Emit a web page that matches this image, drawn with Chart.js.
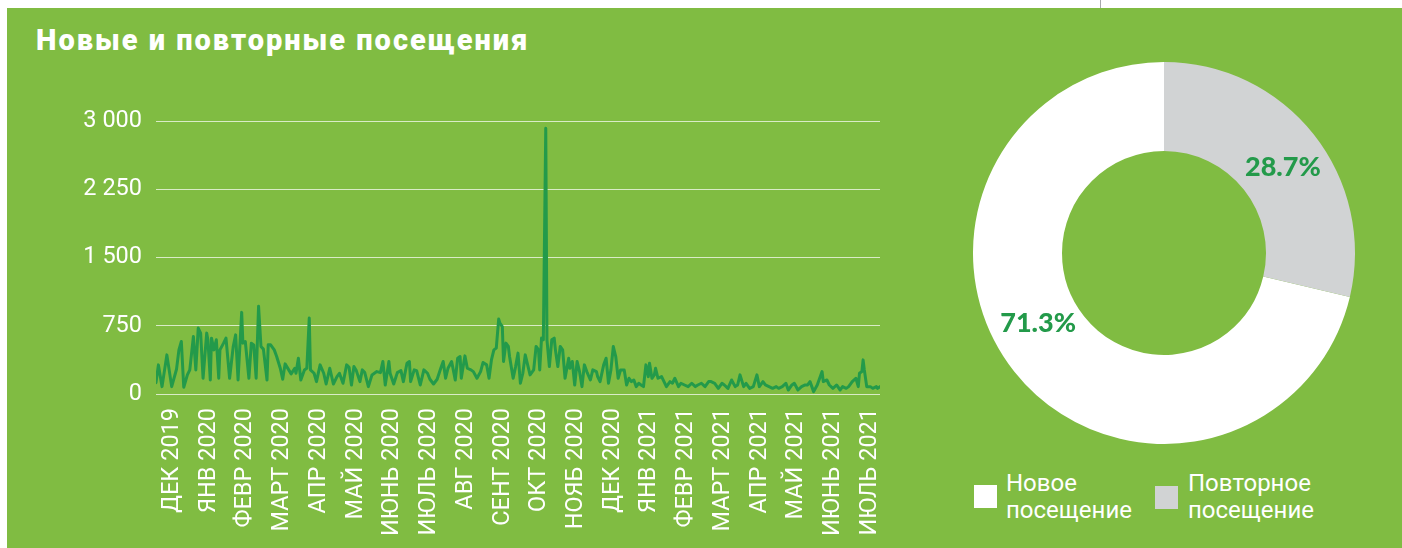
<!DOCTYPE html>
<html><head><meta charset="utf-8">
<script src="https://cdn.jsdelivr.net/npm/chart.js@4.4.1/dist/chart.umd.min.js"></script>
<style>
html,body{margin:0;padding:0;width:1402px;height:548px;overflow:hidden;background:#fff;font-family:Roboto,sans-serif;}
#panel{position:absolute;left:7px;top:8px;width:1395px;height:540px;background:#80bc42;}
#vline{position:absolute;left:1100px;top:0;width:1px;height:8px;background:#a7a9ac;}
#title{position:absolute;left:36px;top:25.5px;font:900 29px/29px Roboto;letter-spacing:2px;color:#fff;white-space:nowrap;}
#lineWrap{position:absolute;left:20px;top:100px;width:870px;height:448px;}
#donutWrap{position:absolute;left:973px;top:62px;width:382px;height:382px;}
.sw{position:absolute;width:23px;height:23px;}
.lt{position:absolute;font:400 24px/27px Roboto;color:#fff;white-space:nowrap;}
</style></head><body>
<div id="panel"></div>
<div id="vline"></div>
<div id="title">Новые и повторные посещения</div>
<div id="lineWrap"><canvas id="lineChart"></canvas></div>
<div id="donutWrap"><canvas id="donutChart"></canvas></div>
<div class="sw" style="left:974px;top:485px;background:#ffffff"></div>
<div class="lt" id="lg0" style="left:1006px;top:470px"></div>
<div class="sw" style="left:1155px;top:486px;background:#d1d3d4"></div>
<div class="lt" id="lg1" style="left:1188px;top:470px"></div>
<script>
// ---- data ----
const monthLabels = ['ДЕК 2019','ЯНВ 2020','ФЕВР 2020','МАРТ 2020','АПР 2020','МАЙ 2020','ИЮНЬ 2020','ИЮЛЬ 2020','АВГ 2020','СЕНТ 2020','ОКТ 2020','НОЯБ 2020','ДЕК 2020','ЯНВ 2021','ФЕВР 2021','МАРТ 2021','АПР 2021','МАЙ 2021','ИЮНЬ 2021','ИЮЛЬ 2021'];
const dayIndex = [0,2,5,9,13,17,19,21,23,26,28,31,33,35,37,39,42,43,45,46,48,50,52,53,56,58,61,64,66,68,71,72,74,77,79,81,83,85,87,89,92,93,95,98,100,103,105,107,110,112,115,116,118,120,123,125,127,128,131,133,136,139,141,144,147,150,152,155,158,160,162,164,166,169,171,173,176,179,183,186,188,190,193,194,197,200,203,205,208,210,211,214,216,219,222,225,227,230,233,236,238,240,242,245,248,250,252,253,256,258,261,263,266,269,271,274,276,278,280,282,284,285,287,288,290,292,293,296,298,300,302,304,306,308,310,313,315,317,318,319.5,321,323,324,326,328,330,331,333,335,337,339,342,343,345,347,349,351,353,355,357,360,362,365,366,368,371,373,375,377,379,381,383,385,388,390,392,394,396,398,400,402,404,406,408,409,411,413,414,416,419,421,423,426,428,430,433,435,438,441,444,447,449,452,455,458,460,463,466,469,471,474,477,480,482,484,487,489,492,495,498,500,503,505,508,511,514,516,519,522,524,527,529,532,535,538,540,542,545,548,550,552,553,556,558,561,564,567,569,572,574,577,580,582,583,585,586,587,589,592,594,597,598,600];
const visits = [125,320,81,430,81,272,485,577,74,210,265,632,265,724,669,173,669,596,154,614,485,596,173,485,559,614,173,522,650,154,897,559,577,173,559,540,173,963,522,493,154,540,540,485,412,283,162,331,265,221,283,228,393,154,265,283,834,265,228,136,320,228,110,283,110,191,228,118,320,294,99,301,257,136,265,235,81,210,246,235,357,99,357,228,110,235,257,136,338,357,136,265,257,99,265,228,162,110,162,283,357,173,283,357,154,393,412,173,419,283,265,246,173,246,346,320,173,375,485,504,823,779,741,357,559,522,412,173,301,449,118,228,430,320,210,265,522,485,265,614,596,2920,596,301,596,614,485,301,522,485,173,393,283,357,99,357,246,81,320,246,154,265,246,191,136,320,393,118,265,522,412,173,265,265,99,173,136,154,81,118,99,81,320,191,338,173,210,283,173,191,136,81,136,118,173,81,118,99,81,118,81,99,118,81,136,136,118,62,118,99,62,154,81,99,210,81,118,62,81,210,81,136,99,81,62,81,62,81,118,44,99,118,44,81,99,99,136,26,99,173,246,136,154,99,62,99,44,81,62,81,136,173,81,228,246,375,265,81,81,62,81,62,81];
const yTicks = [0, 750, 1500, 2250, 3000];
const shareLabels = [['Новое','посещение'], ['Повторное','посещение']];
const shareValues = [71.3, 28.7];

// ---- styling ----
const GREEN_LINE = '#239a4a';
const firstTickDay = 13.3, monthDays = 30.44;
const tickDays = monthLabels.map((_, i) => firstTickDay + i * monthDays);
const fmt = v => String(v).replace(/\B(?=(\d{3})+(?!\d))/g, ' ');
const noAutoPad = s => { s.paddingLeft = 0; s.paddingRight = 0; s.paddingTop = 0; s.paddingBottom = 0; };

document.getElementById('lg0').innerHTML = shareLabels[0].join('<br>');
document.getElementById('lg1').innerHTML = shareLabels[1].join('<br>');

function draw() {
  Chart.defaults.font.family = 'Roboto';
  new Chart(document.getElementById('lineChart'), {
    type: 'line',
    data: { datasets: [{
      data: dayIndex.map((d, i) => ({ x: d, y: visits[i] })),
      borderColor: GREEN_LINE, borderWidth: 3, pointRadius: 0, tension: 0,
      borderJoinStyle: 'round', borderCapStyle: 'round', fill: false
    }]},
    options: {
      responsive: true, maintainAspectRatio: false, animation: false,
      layout: { padding: { top: 21, right: 10, left: 0, bottom: 0 } },
      plugins: { legend: { display: false }, tooltip: { enabled: false } },
      scales: {
        x: {
          type: 'linear', min: 0, max: 600,
          grid: { display: false, drawTicks: false }, border: { display: false },
          afterBuildTicks: s => { s.ticks = tickDays.map(v => ({ value: v })); },
          afterFit: s => { s.height = 154; noAutoPad(s); },
          ticks: { autoSkip: false, maxRotation: 90, minRotation: 90, padding: 14, color: '#fff',
                   font: { size: 23.5, weight: 400 }, callback: (v, i) => monthLabels[i] }
        },
        y: {
          min: 0, max: 3000,
          afterBuildTicks: s => { s.ticks = yTicks.map(v => ({ value: v })); },
          afterFit: s => { s.width = 136; noAutoPad(s); },
          grid: { color: 'rgba(255,255,255,0.7)', lineWidth: 1, drawTicks: false },
          border: { display: false },
          ticks: { padding: 14, color: '#fff', font: { size: 23.5, weight: 400 }, callback: v => fmt(v) }
        }
      }
    }
  });

  const labelOffsets = [[-11, -21], [4, 5]];
  const pctPlugin = {
    id: 'pct',
    afterDatasetsDraw(chart) {
      const ctx = chart.ctx;
      const meta = chart.getDatasetMeta(0);
      ctx.save();
      ctx.fillStyle = GREEN_LINE;
      ctx.font = '900 27px Lato';
      ctx.textAlign = 'center';
      ctx.textBaseline = 'middle';
      meta.data.forEach((arc, i) => {
        const p = arc.getCenterPoint();
        ctx.fillText(shareValues[i].toFixed(1) + '%', p.x + labelOffsets[i][0], p.y + labelOffsets[i][1]);
      });
      ctx.restore();
    }
  };
  new Chart(document.getElementById('donutChart'), {
    type: 'doughnut',
    data: { labels: shareLabels.map(l => l.join(' ')), datasets: [{
      data: shareValues, backgroundColor: ['#ffffff', '#d1d3d4'], borderWidth: 0
    }]},
    options: {
      responsive: true, maintainAspectRatio: false, animation: false,
      rotation: shareValues[1] / 100 * 360, cutout: '53.4%',
      plugins: { legend: { display: false }, tooltip: { enabled: false } }
    },
    plugins: [pctPlugin]
  });
}
Promise.all([
  document.fonts.load('400 24px Roboto'),
  document.fonts.load('900 29px Roboto'),
  document.fonts.load('900 27px Lato')
]).then(draw, draw);
</script>
</body></html>
